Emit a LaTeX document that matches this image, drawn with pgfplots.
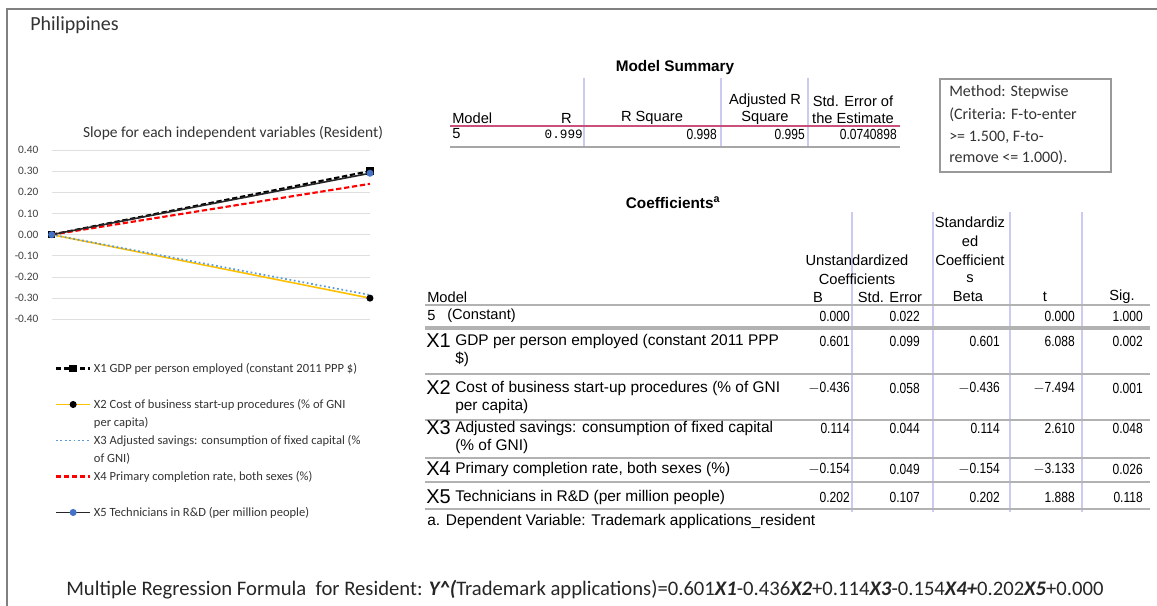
\documentclass[border=0pt]{standalone}
\usepackage{pgfplots}
\pgfplotsset{compat=1.18}
\usepackage{fontspec}
\setmainfont{Carlito}
\newfontfamily\arial{Liberation Sans}
\newfontfamily\arialn[FakeStretch=0.82]{Liberation Sans}
\newfontfamily\mono{Liberation Mono}
\definecolor{xorange}{HTML}{FFC000}
\definecolor{xblue}{HTML}{4472C4}
\definecolor{xblue3}{HTML}{5B9BD5}
\definecolor{lav}{HTML}{CACAF2}
\definecolor{pinkline}{HTML}{C8507A}
\definecolor{frame}{HTML}{808080}
\newcommand\T{\arial\fontsize{11}{13}\selectfont}
\newcommand\TD{\arial\fontsize{11.6}{13}\selectfont}
\newcommand\TB{\arial\bfseries\fontsize{11.5}{13}\selectfont}
\newcommand\N{\arialn\fontsize{11}{13}\selectfont}
\newcommand\X{\arial\fontsize{15}{15}\selectfont}
\begin{document}
\begin{tikzpicture}[x=0.75pt,y=-0.75pt]
\path[use as bounding box] (0,0) rectangle (1157,606);
\draw[frame, line width=1.5pt] (7,606) -- (7,9) -- (1157,9);
\node[anchor=west, inner sep=0pt, font=\fontsize{15}{18}\selectfont, text=black!80] at (30,25) {Philippines};
\node[inner sep=0pt, font=\fontsize{11.6}{13}\selectfont, text=black!80] at (233,133) {Slope for each independent variables (Resident)};

\begin{axis}[at={(38.775pt,-239.475pt)}, anchor=south west, scale only axis,
  width=238.7pt, height=127pt, xmin=0, xmax=1, ymin=-0.4, ymax=0.4,
  ytick={-0.4,-0.3,-0.2,-0.1,0,0.1,0.2,0.3,0.4}, xtick=\empty,
  axis line style={draw=none}, major tick style={draw=none},
  ymajorgrids, grid style={gray!25, line width=0.6pt},
  yticklabel style={font=\fontsize{8.5}{10}\selectfont, text=black!75, xshift=-6.5pt,
    /pgf/number format/.cd, fixed, fixed zerofill, precision=2, assume math mode=true},
  clip=false,
  legend image code/.code={\draw[mark repeat=2,mark phase=2] plot coordinates {(0cm,0cm) (0.45cm,0cm) (0.9cm,0cm)};},
  legend style={at={(rel axis cs:-0.003,-0.22)}, anchor=north west, draw=none, fill=none,
    font=\fontsize{9.4}{11}\selectfont, row sep=0pt, cells={anchor=west}, text=black!80,
    nodes={text height=8.5pt, text depth=3pt, inner ysep=1pt}},
  legend cell align=left]
\addplot[black, line width=1.6pt, dash pattern=on 4pt off 2pt, mark=square*, mark size=2pt, mark options={solid}] coordinates {(0,0) (1,0.30)};
\addlegendentry{X1 GDP per person employed (constant 2011 PPP \$)}
\addlegendimage{empty legend}
\addlegendentry{}
\addplot[xorange, line width=1.2pt, mark=*, mark size=2pt, mark options={black, fill=black}] coordinates {(0,0) (1,-0.30)};
\addlegendentry{X2 Cost of business start-up procedures (\% of GNI}
\addlegendimage{empty legend}
\addlegendentry{per capita)}
\addplot[xblue3, line width=1.3pt, dotted] coordinates {(0,0) (1,-0.285)};
\addlegendentry{X3 Adjusted savings: consumption of fixed capital (\%}
\addlegendimage{empty legend}
\addlegendentry{of GNI)}
\addplot[red, line width=1.6pt, dash pattern=on 4pt off 2pt] coordinates {(0,0) (1,0.24)};
\addlegendentry{X4 Primary completion rate, both sexes (\%)}
\addlegendimage{empty legend}
\addlegendentry{}
\addplot[black!85, line width=1.2pt, mark=*, mark size=2pt, mark options={xblue, fill=xblue}] coordinates {(0,0) (1,0.29)};
\addlegendentry{X5 Technicians in R\&D (per million people)}
\end{axis}

% Model summary
\begin{scope}[every node/.style={inner sep=0pt, font=\T}]
\node[font=\TB] at (675,68) {Model Summary};
\node at (765,101) {Adjusted R};
\node at (765,118) {Square};
\node at (853,101) {Std. Error of};
\node at (853,118) {the Estimate};
\node[anchor=west] at (452,118) {Model};
\node[anchor=east] at (572,118) {R};
\node at (652,118) {R Square};
\node[anchor=west] at (452,134) {5};
\node[anchor=east, font=\mono\fontsize{9.5}{11}\selectfont] at (583,134) {0.999};
\node[anchor=east, font=\N] at (717,134) {0.998};
\node[anchor=east, font=\N] at (805,134) {0.995};
\node[anchor=east, font=\N] at (897,134) {0.0740898};
\end{scope}
\draw[lav, line width=0.8pt] (584,78)--(584,147) (721,78)--(721,147) (808,78)--(808,147);
\draw[pinkline, line width=0.8pt] (450,126)--(900,126);
\draw[gray!70, line width=1.5pt] (450,147)--(900,147);

% Method box
\draw[gray!80, line width=0.8pt] (940,79) rectangle (1111,172);
\begin{scope}[every node/.style={inner sep=0pt, anchor=west, font=\fontsize{12}{14}\selectfont, text=black!80}]
\node at (949,92) {Method: Stepwise};
\node at (949,115) {(Criteria: F-to-enter};
\node at (949,137) {>= 1.500, F-to-};
\node at (949,158) {remove <= 1.000).};
\end{scope}

% Coefficients
\draw[lav, line width=0.8pt] (852,212)--(852,512) (933,212)--(933,512) (1010,212)--(1010,512) (1082,212)--(1082,512);
\draw[gray!60, line width=2pt] (425,305)--(1150,305);
\draw[gray!60, line width=2.5pt] (425,328)--(1150,328);
\draw[gray!60, line width=1.5pt] (425,374)--(1150,374) (425,420)--(1150,420) (425,458)--(1150,458) (425,482)--(1150,482) (425,509)--(1150,509);
\begin{scope}[every node/.style={inner sep=0pt, font=\T}]
\node[font=\TB] at (673,203) {Coefficients\textsuperscript{a}};
\node at (970,222) {Standardiz};
\node at (970,241) {ed};
\node at (970,260) {Coefficient};
\node at (970,279) {s};
\node at (857,260) {Unstandardized};
\node at (857,279) {Coefficients};
\node[anchor=west] at (427,297) {Model};
\node at (818,297) {B};
\node at (890,297) {Std. Error};
\node at (968,297) {Beta};
\node at (1045,297) {t};
\node at (1122,297) {Sig.};
% constant
\node[anchor=west] at (427,316) {5};
\node[anchor=west] at (447,316) {(Constant)};
\node[anchor=east, font=\N] at (850,316) {0.000};
\node[anchor=east, font=\N] at (920,316) {0.022};
\node[anchor=east, font=\N] at (1075,316) {0.000};
\node[anchor=east, font=\N] at (1143,316) {1.000};
% X1
\node[anchor=west, font=\X] at (426,341) {X1};
\node[anchor=west, font=\TD] at (455,341) {GDP per person employed (constant 2011 PPP};
\node[anchor=west, font=\TD] at (455,359) {\$)};
\node[anchor=east, font=\N] at (850,341) {0.601};
\node[anchor=east, font=\N] at (920,341) {0.099};
\node[anchor=east, font=\N] at (1000,341) {0.601};
\node[anchor=east, font=\N] at (1075,341) {6.088};
\node[anchor=east, font=\N] at (1143,341) {0.002};
% X2
\node[anchor=west, font=\X] at (426,388) {X2};
\node[anchor=west, font=\TD] at (455,388) {Cost of business start-up procedures (\% of GNI};
\node[anchor=west, font=\TD] at (455,406) {per capita)};
\node[anchor=east, font=\N] at (850,388) {$-$0.436};
\node[anchor=east, font=\N] at (920,388) {0.058};
\node[anchor=east, font=\N] at (1000,388) {$-$0.436};
\node[anchor=east, font=\N] at (1075,388) {$-$7.494};
\node[anchor=east, font=\N] at (1143,388) {0.001};
% X3
\node[anchor=west, font=\X] at (426,428) {X3};
\node[anchor=west, font=\TD] at (455,428) {Adjusted savings: consumption of fixed capital};
\node[anchor=west, font=\TD] at (455,446) {(\% of GNI)};
\node[anchor=east, font=\N] at (850,428) {0.114};
\node[anchor=east, font=\N] at (920,428) {0.044};
\node[anchor=east, font=\N] at (1000,428) {0.114};
\node[anchor=east, font=\N] at (1075,428) {2.610};
\node[anchor=east, font=\N] at (1143,428) {0.048};
% X4
\node[anchor=west, font=\X] at (426,469) {X4};
\node[anchor=west, font=\TD] at (455,469) {Primary completion rate, both sexes (\%)};
\node[anchor=east, font=\N] at (850,469) {$-$0.154};
\node[anchor=east, font=\N] at (920,469) {0.049};
\node[anchor=east, font=\N] at (1000,469) {$-$0.154};
\node[anchor=east, font=\N] at (1075,469) {$-$3.133};
\node[anchor=east, font=\N] at (1143,469) {0.026};
% X5
\node[anchor=west, font=\X] at (426,497) {X5};
\node[anchor=west, font=\TD] at (455,497) {Technicians in R\&D (per million people)};
\node[anchor=east, font=\N] at (850,497) {0.202};
\node[anchor=east, font=\N] at (920,497) {0.107};
\node[anchor=east, font=\N] at (1000,497) {0.202};
\node[anchor=east, font=\N] at (1075,497) {1.888};
\node[anchor=east, font=\N] at (1143,497) {0.118};
\node[anchor=west, font=\TD] at (427,521) {a. Dependent Variable: Trademark applications\_resident};
\end{scope}

\node[anchor=west, inner sep=0pt, font=\fontsize{15.5}{18}\selectfont, text=black!85] at (66,590) {Multiple Regression Formula\ \ for Resident: \textbf{\textit{Y\^{}(}}Trademark applications)=0.601\textbf{\textit{X1}}-0.436\textbf{\textit{X2}}+0.114\textbf{\textit{X3}}-0.154\textbf{\textit{X4+}}0.202\textbf{\textit{X5}}+0.000};
\end{tikzpicture}
\end{document}
